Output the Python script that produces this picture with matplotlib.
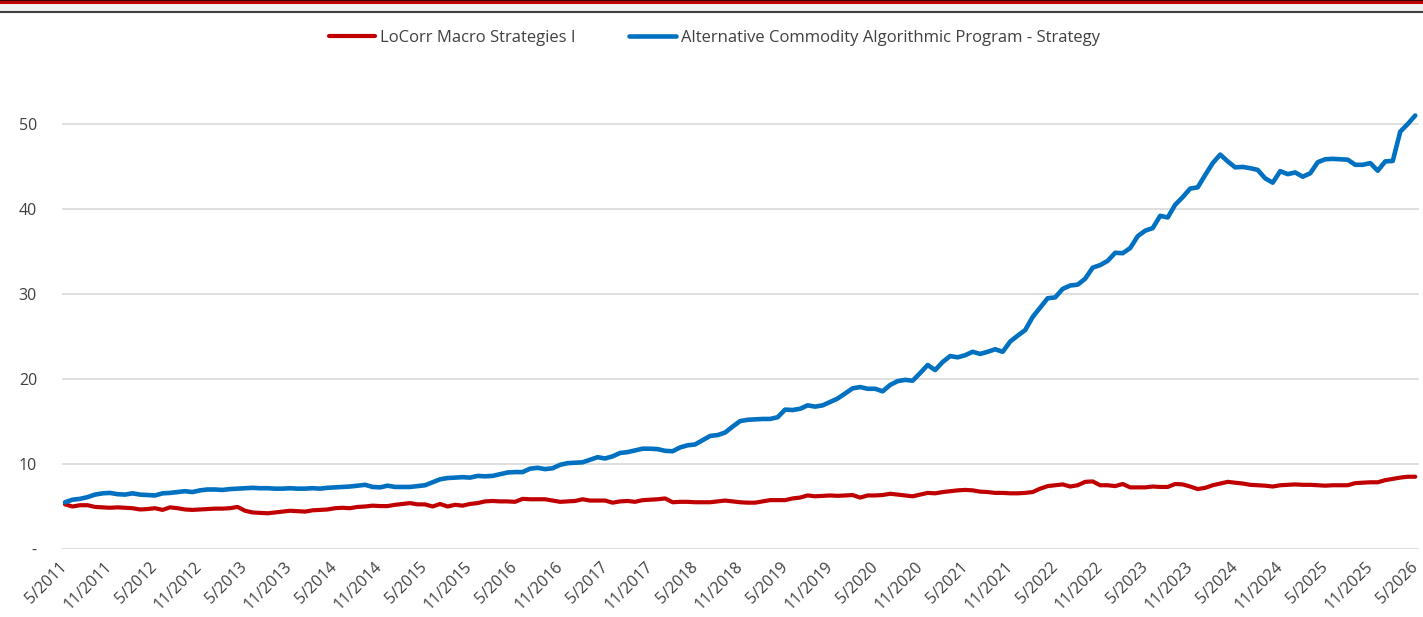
import numpy as np
import matplotlib
matplotlib.use("Agg")
import matplotlib.pyplot as plt
from matplotlib.lines import Line2D
from matplotlib.patches import Rectangle

plt.rcParams['font.family'] = ['Open Sans', 'DejaVu Sans']

series_names = ["LoCorr Macro Strategies I",
                "Alternative Commodity Algorithmic Program - Strategy"]

# monthly values, 5/2011 .. 5/2026
locorr = [
    5.25, 5.0, 5.15, 5.15, 4.95, 4.9, 4.85, 4.9, 4.85, 4.8,
    4.65, 4.7, 4.8, 4.6, 4.9, 4.8, 4.65, 4.6, 4.65, 4.7,
    4.75, 4.75, 4.8, 4.95, 4.5, 4.3, 4.25, 4.2, 4.3, 4.4,
    4.5, 4.45, 4.4, 4.55, 4.6, 4.65, 4.8, 4.85, 4.8, 4.95,
    5.0, 5.1, 5.05, 5.05, 5.2, 5.3, 5.4, 5.25, 5.25, 5.0,
    5.3, 5.0, 5.2, 5.1, 5.3, 5.4, 5.6, 5.65, 5.6, 5.6,
    5.55, 5.9, 5.85, 5.85, 5.85, 5.7, 5.55, 5.6, 5.65, 5.85,
    5.7, 5.7, 5.7, 5.45, 5.6, 5.65, 5.55, 5.75, 5.8, 5.85,
    5.95, 5.5, 5.55, 5.55, 5.5, 5.5, 5.5, 5.6, 5.7, 5.6,
    5.5, 5.45, 5.45, 5.6, 5.75, 5.75, 5.75, 5.95, 6.05, 6.3,
    6.2, 6.25, 6.3, 6.25, 6.3, 6.35, 6.05, 6.3, 6.3, 6.35,
    6.5, 6.4, 6.3, 6.2, 6.4, 6.6, 6.55, 6.7, 6.8, 6.9,
    6.95, 6.9, 6.75, 6.7, 6.6, 6.6, 6.55, 6.55, 6.6, 6.7,
    7.1, 7.4, 7.5, 7.6, 7.35, 7.5, 7.9, 7.95, 7.5, 7.5,
    7.4, 7.65, 7.25, 7.25, 7.25, 7.35, 7.3, 7.3, 7.65, 7.6,
    7.35, 7.05, 7.2, 7.5, 7.7, 7.9, 7.8, 7.7, 7.55, 7.5,
    7.45, 7.35, 7.5, 7.55, 7.6, 7.55, 7.55, 7.5, 7.45, 7.5,
    7.5, 7.5, 7.75, 7.8, 7.85, 7.85, 8.1, 8.25, 8.4, 8.5,
    8.5,
]

acap = [
    5.5, 5.8, 5.9, 6.1, 6.4, 6.55, 6.6, 6.45, 6.4, 6.55,
    6.4, 6.35, 6.3, 6.55, 6.6, 6.7, 6.8, 6.7, 6.9, 7.0,
    7.0, 6.95, 7.05, 7.1, 7.15, 7.2, 7.15, 7.15, 7.1, 7.1,
    7.15, 7.1, 7.1, 7.15, 7.1, 7.2, 7.25, 7.3, 7.35, 7.45,
    7.55, 7.3, 7.25, 7.45, 7.3, 7.3, 7.3, 7.4, 7.5, 7.85,
    8.2, 8.35, 8.4, 8.45, 8.4, 8.6, 8.55, 8.6, 8.8, 9.0,
    9.05, 9.05, 9.45, 9.55, 9.4, 9.5, 9.9, 10.1, 10.15, 10.2,
    10.5, 10.8, 10.65, 10.9, 11.3, 11.4, 11.6, 11.8, 11.8, 11.75,
    11.55, 11.5, 11.95, 12.2, 12.3, 12.8, 13.3, 13.4, 13.7, 14.4,
    15.05, 15.2, 15.25, 15.3, 15.3, 15.5, 16.4, 16.35, 16.5, 16.9,
    16.75, 16.9, 17.3, 17.7, 18.3, 18.9, 19.05, 18.85, 18.85, 18.55,
    19.3, 19.75, 19.9, 19.8, 20.7, 21.65, 21.05, 22.0, 22.7, 22.55,
    22.8, 23.2, 22.95, 23.2, 23.5, 23.2, 24.4, 25.1, 25.75, 27.3,
    28.4, 29.5, 29.6, 30.6, 31.0, 31.1, 31.8, 33.1, 33.4, 33.9,
    34.85, 34.8, 35.4, 36.8, 37.45, 37.75, 39.2, 39.0, 40.5, 41.4,
    42.4, 42.55, 44.0, 45.4, 46.4, 45.6, 44.9, 44.95, 44.8, 44.6,
    43.6, 43.1, 44.45, 44.1, 44.3, 43.8, 44.2, 45.5, 45.85, 45.9,
    45.85, 45.8, 45.2, 45.2, 45.4, 44.5, 45.6, 45.65, 49.1, 50.0,
    51.0,
]

tick_labels = [
    "5/2011", "11/2011", "5/2012", "11/2012", "5/2013", "11/2013",
    "5/2014", "11/2014", "5/2015", "11/2015", "5/2016", "11/2016",
    "5/2017", "11/2017", "5/2018", "11/2018", "5/2019", "11/2019",
    "5/2020", "11/2020", "5/2021", "11/2021", "5/2022", "11/2022",
    "5/2023", "11/2023", "5/2024", "11/2024", "5/2025", "11/2025",
    "5/2026",
]
y_ticks = [0, 10, 20, 30, 40, 50]
y_tick_labels = ["-", "10", "20", "30", "40", "50"]

red = "#C00000"
blue = "#0070C0"
text_col = "#404040"

W, H = 1423, 617
fig = plt.figure(figsize=(W / 100, H / 100), dpi=100)

# top banner lines
fig.patches.append(Rectangle((0, 1 - 11 / H), 1, 8 / H, transform=fig.transFigure,
                             color="#f0f0f0", zorder=0))
fig.lines.append(Line2D([0, 1], [1 - 1.5 / H, 1 - 1.5 / H], transform=fig.transFigure,
                        color=red, lw=2.2))
fig.lines.append(Line2D([0, 1], [1 - 0.3 / H, 1 - 0.3 / H], transform=fig.transFigure,
                        color="#3a0000", lw=0.8))
fig.lines.append(Line2D([0, 1], [1 - 11.5 / H, 1 - 11.5 / H], transform=fig.transFigure,
                        color="#404040", lw=1.5))

ax_left, ax_right = 62 / W, 1419 / W
ax_bottom, ax_top = (H - 549) / H, (H - 73) / H
ax = fig.add_axes([ax_left, ax_bottom, ax_right - ax_left, ax_top - ax_bottom])

x = np.arange(len(acap))
ax.plot(x, locorr, color=red, lw=3, label=series_names[0], solid_capstyle="round", zorder=3)
ax.plot(x, acap, color=blue, lw=3.3, label=series_names[1], solid_capstyle="round", zorder=4)

ax.set_xlim(-0.4, 180.5)
ax.set_ylim(0, 56)
ax.set_yticks(y_ticks)
ax.set_yticklabels(y_tick_labels, color=text_col, fontsize=11.5)
ax.set_xticks(np.arange(0, len(acap), 6))
ax.set_xticklabels(tick_labels, rotation=45, ha="right", va="center", rotation_mode="anchor",
                   color=text_col, fontsize=11.5)
ax.tick_params(axis="y", length=0, pad=18)
ax.tick_params(axis="x", length=0, pad=11)
ax.grid(axis="y", color="#d9d9d9", lw=1.2)
ax.set_axisbelow(True)
for s in ax.spines.values():
    s.set_visible(False)

leg = fig.legend(loc="center", bbox_to_anchor=(0.502, 1 - 38 / H), ncol=2, frameon=False,
                 fontsize=12, handlelength=2.8, handletextpad=0.3, columnspacing=3.2)
for t in leg.get_texts():
    t.set_color(text_col)

fig.savefig("out.png", dpi=100)
